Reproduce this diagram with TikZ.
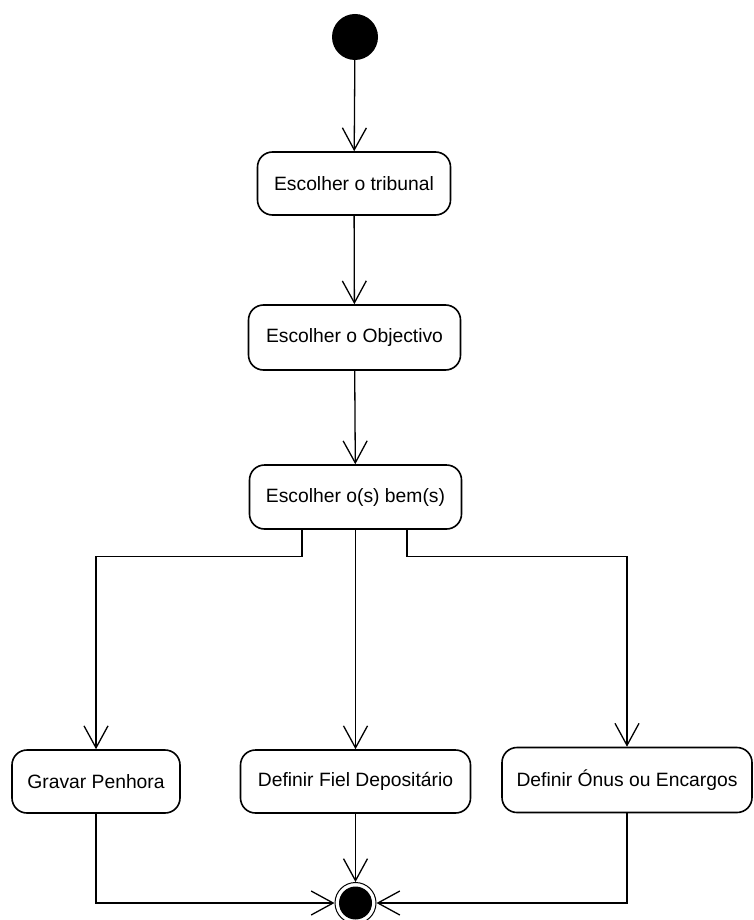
\documentclass[tikz,border=0pt]{standalone}
\usepackage{fontspec}
\setmainfont{Liberation Sans}
\usetikzlibrary{arrows.meta}
\begin{document}
\begin{tikzpicture}[x=1pt,y=-1pt,
  action/.style={draw, line width=1.6pt, rounded corners=15pt, fill=white,
    inner sep=0pt, font=\fontsize{19.3}{22}\selectfont},
  flow/.style={line width=1.3pt, -{Straight Barb[length=22pt,width=24pt,line width=1.3pt]}},
  startdot/.style={circle, fill=black, minimum size=46pt, inner sep=0pt},
  endring/.style={circle, draw, line width=1pt, fill=white, minimum size=41pt, inner sep=0pt},
  enddot/.style={circle, fill=black, minimum size=33pt, inner sep=0pt}]
\useasboundingbox (0,0) rectangle (753,920);

% initial and final states
\node[startdot] (start) at (355,37) {};
\node[endring] (end) at (355.5,903) {};
\node[enddot] (endcore) at (355.5,903) {};

% actions
\node[action, minimum width=193pt, minimum height=63pt] (b1) at (354,183.5) {Escolher o tribunal};
\node[action, minimum width=212pt, minimum height=65pt] (b2) at (354.5,337.5) {Escolher o Objectivo};
\node[action, minimum width=212pt, minimum height=64pt] (b3) at (355.5,497) {Escolher o(s) bem(s)};
\node[action, minimum width=168pt, minimum height=63pt] (b4) at (96,781.5) {Gravar Penhora};
\node[action, minimum width=230pt, minimum height=63pt] (b5) at (355.5,781.5) {Definir Fiel Depositário};
\node[action, minimum width=250pt, minimum height=65pt] (b6) at (627,780) {Definir Ónus ou Encargos};

% main sequence
\draw[flow] (start) -- (b1);
\draw[flow] (b1) -- (b2);
\draw[flow] (b2) -- (b3);

% fork into the three parallel actions
\draw[flow] ([xshift=-53.5pt]b3.south) -- ++(0,27) -| (b4.north);
\draw[flow] (b3.south) -- (b5.north);
\draw[flow] ([xshift=51.5pt]b3.south) -- ++(0,27) -| (b6.north);

% join into the final state
\draw[flow] (b4.south) |- (end.west);
\draw[flow] (b5.south) -- (end.north);
\draw[flow] (b6.south) |- (end.east);
\end{tikzpicture}
\end{document}
